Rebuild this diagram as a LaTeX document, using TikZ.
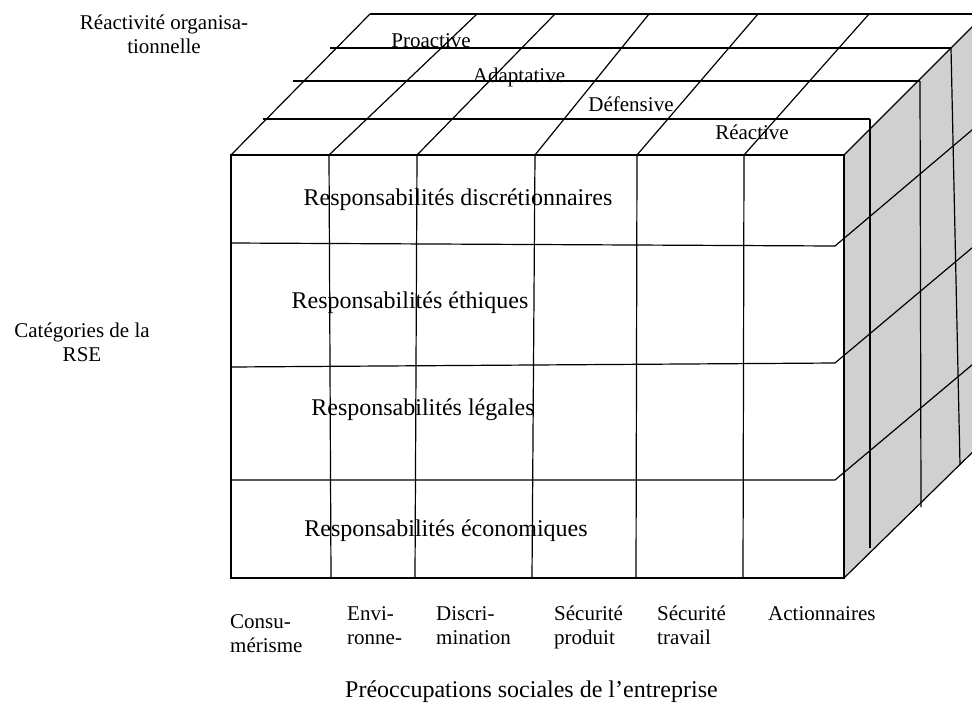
\documentclass[tikz,border=0pt]{standalone}
\usepackage{fontspec}
\setmainfont{Liberation Serif}
\usepackage{tikz}
\usetikzlibrary{positioning}
\definecolor{sidegray}{RGB}{208,208,208}

\begin{document}
\begin{tikzpicture}[x=1pt,y=-1pt]
\tikzset{edge/.style={draw,line width=1.2pt}}
\tikzset{small/.style={inner sep=0pt,font=\fontsize{21}{24}\selectfont}}
\tikzset{big/.style={inner sep=0pt,font=\fontsize{24}{28}\selectfont}}
\tikzset{tag/.style={small,anchor=base west,align=left}}
    \useasboundingbox (0,0) rectangle (972,702);
    \fill[white] (0,0) rectangle (972,702);
    \clip (0,0) rectangle (972,702);
        \path[fill=sidegray] (844,155) -- (985,14) -- (985,440) -- (844,578) -- cycle;
        \path[edge] (231,155) rectangle (844,578);
        \path[edge] (231,243) -- (835,246) -- (985,119);
        \path[edge] (231,367) -- (835,363) -- (985,237);
        \path[edge] (231,480) -- (835,480) -- (985,354);
        \path[edge] (329,155) -- (331,578);
        \path[edge] (417,155) -- (415,578);
        \path[edge] (535,155) -- (532,578);
        \path[edge] (637,155) -- (636,578);
        \path[edge] (744,155) -- (743,578);
        \path[edge] (231,155) -- (370,14);
        \path[edge] (329,155) -- (477,14);
        \path[edge] (417,155) -- (555,14);
        \path[edge] (535,155) -- (649,14);
        \path[edge] (637,155) -- (758,14);
        \path[edge] (744,155) -- (869,14);
        \path[edge] (844,155) -- (985,14);
        \path[edge] (370,14) -- (985,14);
        \path[edge] (330,48) -- (951,48);
        \path[edge] (293,81) -- (920,81);
        \path[edge] (263,119) -- (870,119);
        \path[edge] (870,119) -- (870,548);
        \path[edge] (920,81) -- (921,507);
        \path[edge] (951,48) -- (960,465);
        \path[edge] (844,578) -- (985,440);
        \node[small] (proactive) at (431,41) {Proactive};
        \node[small] (adaptative) at (519,77) {Adaptative};
        \node[small] (defensive) at (631,104) {Défensive};
        \node[small] (reactive) at (752,132) {Réactive};
        \node[big] (discret) at (458,200) {Responsabilités discrétionnaires};
        \node[big] (ethiques) at (410,303) {Responsabilités éthiques};
        \node[big] (legales) at (423,410) {Responsabilités légales};
        \node[big] (econom) at (446,531) {Responsabilités économiques};
        \node[small,align=center] (reactivite) at (164,34) {Réactivité organisa-\\tionnelle};
        \node[small,align=center] (categories) at (82,342) {Catégories de la\\RSE};
        \node[tag] (consu) at (230,652) {Consu-\\mérisme};
        \node[tag] (envi) at (347,644) {Envi-\\ronne-};
        \node[tag] (discri) at (436,644) {Discri-\\mination};
        \node[tag] (secprod) at (554,644) {Sécurité\\produit};
        \node[tag] (sectrav) at (657,644) {Sécurité\\travail};
        \node[tag] (action) at (768,620) {Actionnaires};
        \node[big,anchor=base west] (preocc) at (345,697) {Préoccupations sociales de l’entreprise};
    \end{tikzpicture}
\end{document}
